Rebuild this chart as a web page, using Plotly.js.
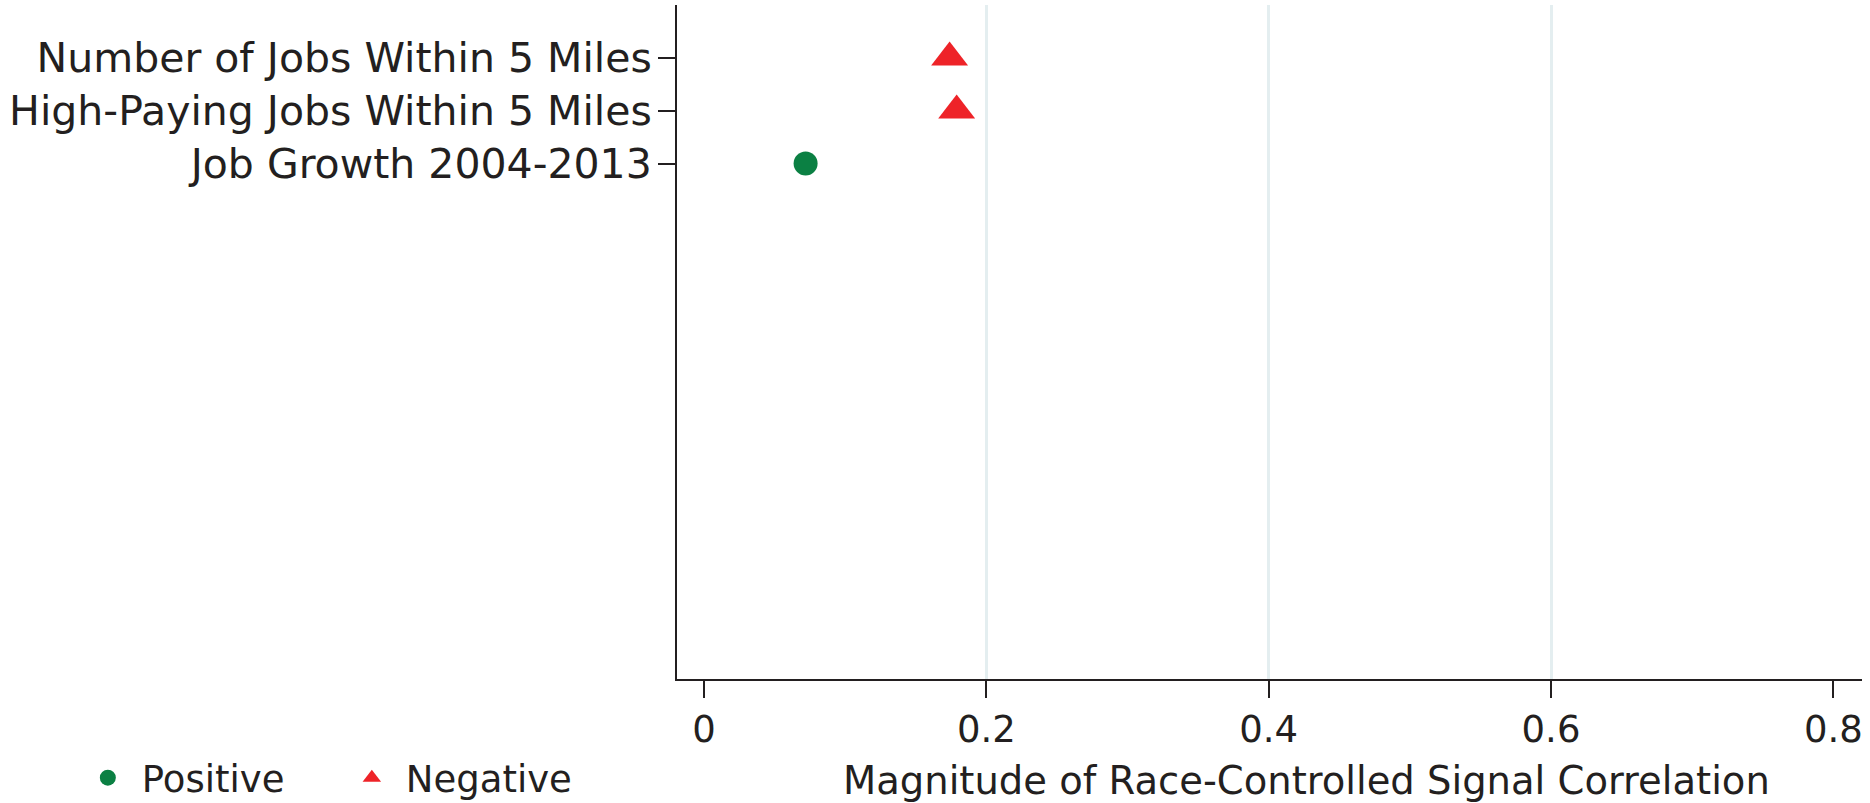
<!DOCTYPE html>
<html>
<head>
<meta charset="utf-8">
<script src="https://cdn.plot.ly/plotly-3.0.1.min.js"></script>
<style>
  html, body { margin: 0; padding: 0; background: #ffffff; }
  #chart { width: 1870px; height: 803px; }
</style>
</head>
<body>
<div id="chart"></div>
<script>
// ---- data ----
const categories = [
  'Number of Jobs Within 5 Miles',
  'High-Paying Jobs Within 5 Miles',
  'Job Growth 2004-2013'
];
const magnitude = [0.174, 0.179, 0.072];
const direction = ['Negative', 'Negative', 'Positive'];
const xTickVals = [0, 0.2, 0.4, 0.6, 0.8];
const xTickText = ['0', '0.2', '0.4', '0.6', '0.8'];
const gridVals = [0.2, 0.4, 0.6];
const xTitle = 'Magnitude of Race-Controlled Signal Correlation';

const FONT = 'DejaVu Sans, sans-serif';
const INK = '#231f20';

function pick(sign) {
  const xs = [], ys = [];
  categories.forEach((c, i) => { if (direction[i] === sign) { xs.push(magnitude[i]); ys.push(c); } });
  return { xs, ys };
}
const pos = pick('Positive');
const neg = pick('Negative');

const traces = [
  {
    type: 'scatter', mode: 'markers', name: 'Positive',
    x: pos.xs, y: pos.ys,
    marker: { symbol: 'circle', size: 24, color: '#0b8043' },
    cliponaxis: false
  },
  {
    type: 'scatter', mode: 'markers', name: 'Negative',
    x: neg.xs, y: neg.ys,
    marker: { symbol: 'triangle-up', size: 32, color: '#ee2328' },
    cliponaxis: false
  },
  {
    type: 'scatter', mode: 'markers', x: [], y: [], xaxis: 'x2', yaxis: 'y',
    showlegend: false, hoverinfo: 'skip'
  }
];

const layout = {
  width: 1870, height: 803,
  paper_bgcolor: '#ffffff', plot_bgcolor: '#ffffff',
  margin: { l: 677, r: 8, t: 5, b: 124, pad: 0, autoexpand: false },
  font: { family: FONT, color: INK, size: 37 },
  showlegend: true,
  xaxis: {
    range: [-0.0191, 0.8203],
    tickmode: 'array', tickvals: xTickVals, ticktext: xTickText,
    ticks: 'outside', ticklen: 17, tickwidth: 2, tickcolor: INK,
    showline: true, linewidth: 2, linecolor: INK,
    showgrid: false, zeroline: false, automargin: false,
    tickfont: { family: FONT, size: 37, color: INK },
    ticklabelstandoff: 0
  },
  xaxis2: {
    overlaying: 'x', anchor: 'y', range: [-0.0191, 0.8203],
    tickmode: 'array', tickvals: gridVals,
    showgrid: true, gridcolor: '#e4eef0', gridwidth: 3,
    showticklabels: false, ticks: '', showline: false, zeroline: false
  },
  yaxis: {
    type: 'category', categoryorder: 'array', categoryarray: categories,
    range: [11.72, -0.99],
    ticks: 'outside', ticklen: 17, tickwidth: 2, tickcolor: INK,
    showline: true, linewidth: 2, linecolor: INK,
    showgrid: false, zeroline: false, automargin: false,
    tickfont: { family: FONT, size: 41, color: INK },
    ticklabelstandoff: -2
  },
  legend: {
    orientation: 'h', x: -0.509, xanchor: 'left', y: -0.147, yanchor: 'middle',
    font: { family: FONT, size: 37, color: INK },
    bgcolor: 'rgba(0,0,0,0)', borderwidth: 0,
    traceorder: 'normal', itemwidth: 58,
    entrywidth: 191, entrywidthmode: 'pixels'
  },
  annotations: [{
    text: xTitle, xref: 'paper', yref: 'paper',
    x: 0.531, y: -0.150, xanchor: 'center', yanchor: 'middle',
    showarrow: false, font: { family: FONT, size: 38.5, color: INK }
  }]
};

Plotly.newPlot('chart', traces, layout, { displayModeBar: false, staticPlot: true });
</script>
</body>
</html>
